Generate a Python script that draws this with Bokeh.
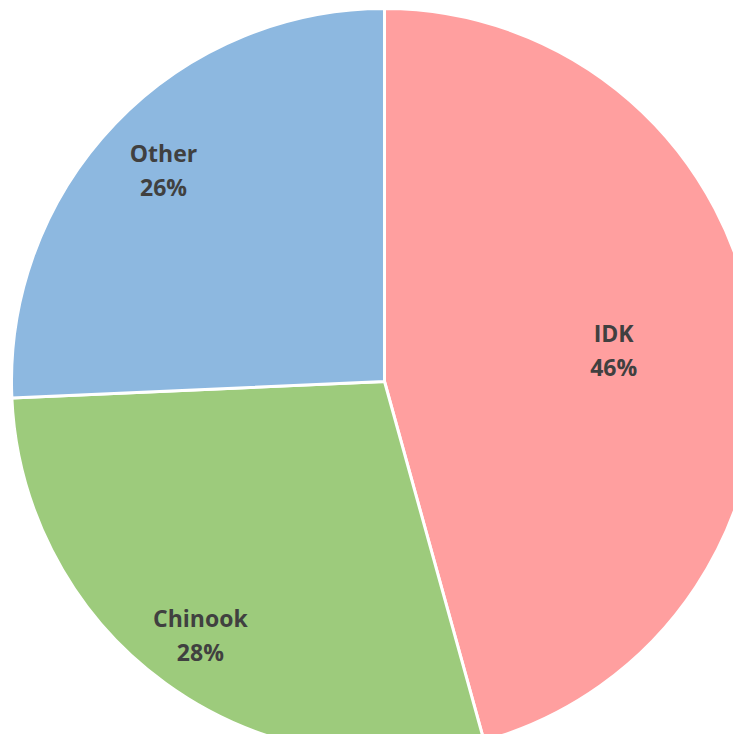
import math
from bokeh.plotting import figure
from bokeh.models import Range1d, ColumnDataSource
from bokeh.core.properties import value
from bokeh.embed import file_html
from bokeh.resources import INLINE

# Data
categories = ["IDK", "Chinook", "Other"]
shares = [45.7, 28.6, 25.7]
pct_labels = ["46%", "28%", "26%"]
colors = ["#FF9F9F", "#9DCB7C", "#8DB8E0"]
label_radius_frac = [0.62, 0.84, 0.82]

W, H = 733, 734
cx, cy, r = 384, H - 381, 373

total = sum(shares)
starts, ends, lx, ly = [], [], [], []
cum = 0.0
for v, f in zip(shares, label_radius_frac):
    a0 = math.pi / 2 - 2 * math.pi * cum / total
    cum += v
    a1 = math.pi / 2 - 2 * math.pi * cum / total
    starts.append(a0)
    ends.append(a1)
    mid = (a0 + a1) / 2
    lx.append(cx + f * r * math.cos(mid))
    ly.append(cy + f * r * math.sin(mid))

src = ColumnDataSource(dict(cat=categories, pct=pct_labels, color=colors,
                            start=starts, end=ends, lx=lx, ly=ly))

p = figure(width=W, height=H, output_backend="svg", toolbar_location=None,
           x_range=Range1d(0, W), y_range=Range1d(0, H), min_border=0)
p.axis.visible = False
p.xgrid.visible = False
p.ygrid.visible = False
p.outline_line_color = None
p.background_fill_color = "white"

p.wedge(x=cx, y=cy, radius=r, start_angle="start", end_angle="end",
        direction="clock", fill_color="color", line_color="white",
        line_width=3, source=src)

p.text(x="lx", y="ly", text="cat", source=src, y_offset=-17,
       text_font=value("Open Sans"), text_font_style="bold",
       text_font_size="23px", text_color="#404040",
       text_align="center", text_baseline="middle")
p.text(x="lx", y="ly", text="pct", source=src, y_offset=17,
       text_font=value("Open Sans"), text_font_style="bold",
       text_font_size="23px", text_color="#404040",
       text_align="center", text_baseline="middle")

open("out.html", "w").write(file_html(p, INLINE))
